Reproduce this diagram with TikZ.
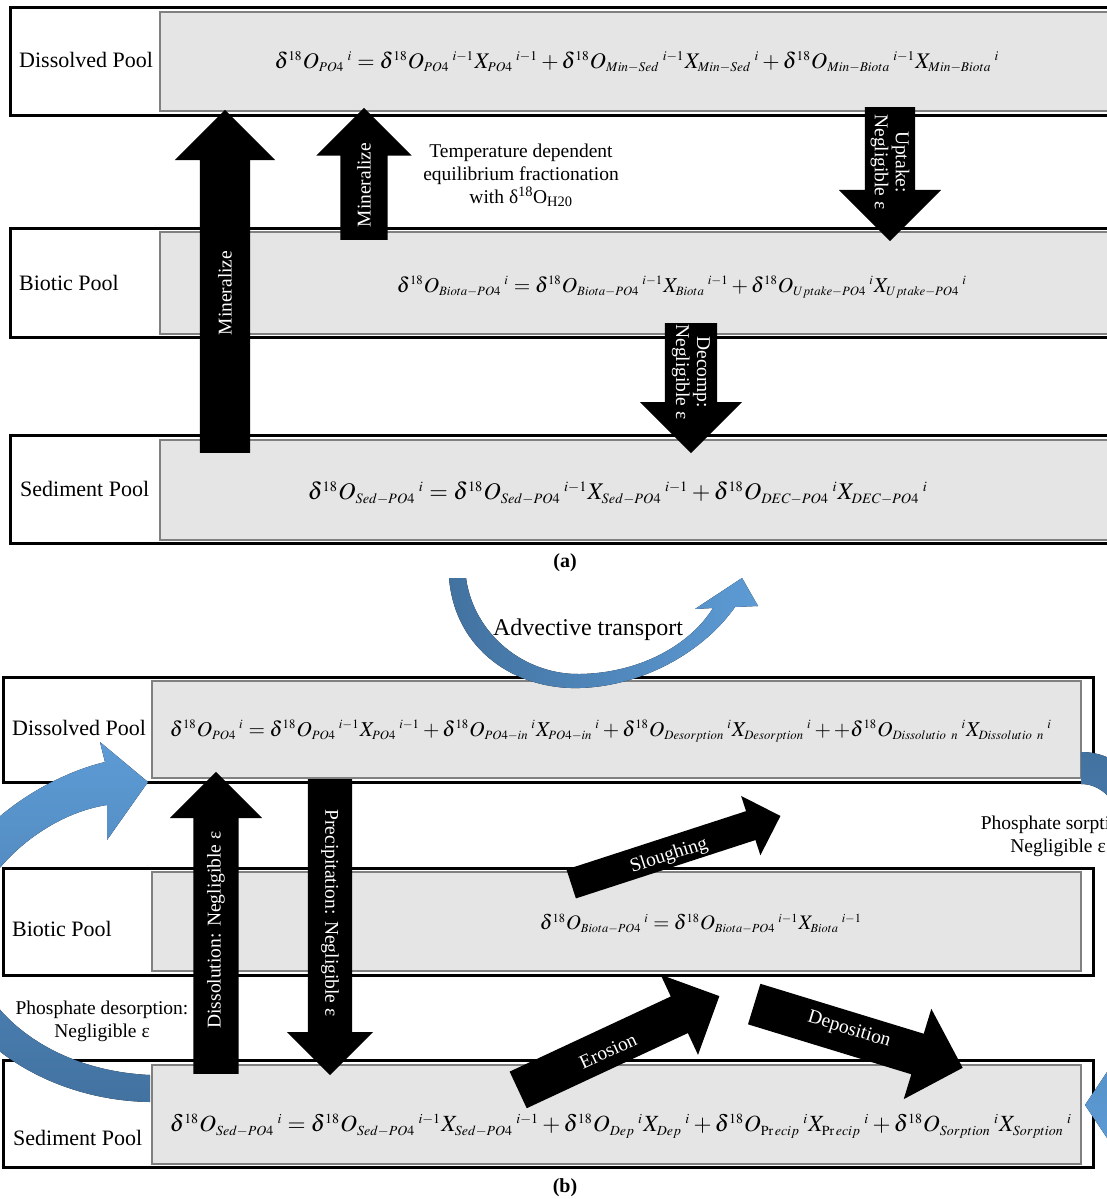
\documentclass[tikz,border=0pt]{standalone}
\usepackage{mathptmx}
\usepackage{graphicx}
\usepackage{fontspec}
\setmainfont{Liberation Serif}
\usetikzlibrary{shapes.arrows}

\definecolor{advlight}{RGB}{93,155,213}
\definecolor{advdark}{RGB}{66,114,160}

\newcommand{\eqsub}[1]{_{\scriptscriptstyle #1}}
\newcommand{\eqsup}[1]{{}^{\scriptscriptstyle\;#1}}
\newcommand{\dOx}{\delta^{\scriptscriptstyle 18}O}

\tikzset{
  pool/.style={draw=black, line width=3pt, fill=white},
  eqbox/.style={draw=black!50, line width=1.3pt, fill=black!10},
  poolname/.style={anchor=west, inner sep=0pt, font=\fontsize{22}{26}\selectfont},
  note/.style={inner sep=0pt, align=center, font=\fontsize{19.5}{23}\selectfont},
  flow/.style={single arrow, fill=black, draw=none, inner xsep=0pt, anchor=tail},
  flowtext/.style={inner sep=0pt, align=center, text=white, font=\fontsize{19.5}{21}\selectfont},
  tag/.style={inner sep=0pt, font=\fontsize{20}{22}\selectfont\bfseries},
}

\begin{document}
\begin{tikzpicture}[x=1pt, y=-1pt]
  \useasboundingbox (0,0) rectangle (1107,1199);
  \clip (0,0) rectangle (1107,1199);

  % (a)
  \draw[pool] (10,8) rectangle (1120,115);
  \draw[eqbox] (160,12) rectangle (1120,111);
  \draw[pool] (10,228) rectangle (1120,337);
  \draw[eqbox] (160,232) rectangle (1120,334);
  \draw[pool] (10,435) rectangle (1120,543);
  \draw[eqbox] (160,440) rectangle (1120,540);

  \node[poolname] (adis) at (19,60) {Dissolved Pool};
  \node[poolname] (abio) at (19,283) {Biotic Pool};
  \node[poolname] (ased) at (20,489) {Sediment Pool};

  \node (adiseq) at (637,62) {\resizebox{725pt}{!}{$\dOx\eqsub{PO4}\eqsup{i} = \dOx\eqsub{PO4}\eqsup{i-1}X\eqsub{PO4}\eqsup{i-1} + \dOx\eqsub{Min-Sed}\eqsup{i-1}X\eqsub{Min-Sed}\eqsup{i} + \dOx\eqsub{Min-Biota}\eqsup{i-1}X\eqsub{Min-Biota}\eqsup{i}$}};
  \node (abioeq) at (682,287) {\resizebox{570pt}{!}{$\dOx\eqsub{Biota-PO4}\eqsup{i} = \dOx\eqsub{Biota-PO4}\eqsup{i-1}X\eqsub{Biota}\eqsup{i-1} + \dOx\eqsub{Uptake-PO4}\eqsup{i}X\eqsub{Uptake-PO4}\eqsup{i}$}};
  \node (asedeq) at (618,493) {\resizebox{620pt}{!}{$\dOx\eqsub{Sed-PO4}\eqsup{i} = \dOx\eqsub{Sed-PO4}\eqsup{i-1}X\eqsub{Sed-PO4}\eqsup{i-1} + \dOx\eqsub{DEC-PO4}\eqsup{i}X\eqsub{DEC-PO4}\eqsup{i}$}};

  \node[flow, inner ysep=25pt, single arrow head extend=25pt, minimum height=343pt, rotate=90] (minbig) at (225,453) {};
  \node[flowtext, rotate=90] (minbigtxt) at (225,293) {Mineralize};
  \node[flow, inner ysep=23.5pt, single arrow head extend=24pt, minimum height=132pt, rotate=90] (minsmall) at (364,240) {};
  \node[flowtext, rotate=90] (minsmalltxt) at (364,185) {Mineralize};
  \node[flow, inner ysep=25pt, single arrow head extend=26pt, minimum height=134pt, rotate=-90] (uptake) at (890,107) {};
  \node[flowtext, rotate=-90] (uptaketxt) at (890,162) {Uptake:\\Negligible ε};
  \node[flow, inner ysep=26pt, single arrow head extend=25pt, minimum height=130pt, rotate=-90] (decomp) at (691,323) {};
  \node[flowtext, rotate=-90] (decomptxt) at (691,372) {Decomp:\\Negligible ε};

  \node[note] (tempnote) at (521,175) {Temperature dependent\\equilibrium fractionation\\with δ\textsuperscript{18}O\textsubscript{H20}};
  \node[tag] (taga) at (565,563) {(a)};

  % (b)
  \draw[pool] (3,677) rectangle (1093,782);
  \draw[eqbox] (152,681) rectangle (1081,778);
  \draw[pool] (3,868) rectangle (1093,975);
  \draw[eqbox] (152,872) rectangle (1081,971);
  \draw[pool] (3,1060) rectangle (1093,1167);
  \draw[eqbox] (152,1065) rectangle (1081,1164);

  \node[poolname] (bdis) at (12,728) {Dissolved Pool};
  \node[poolname] (bbio) at (12,929) {Biotic Pool};
  \node[poolname] (bsed) at (13,1138) {Sediment Pool};

  \node (bdiseq) at (611,731) {\resizebox{882pt}{!}{$\dOx\eqsub{PO4}\eqsup{i} = \dOx\eqsub{PO4}\eqsup{i-1}X\eqsub{PO4}\eqsup{i-1} + \dOx\eqsub{PO4-in}\eqsup{i}X\eqsub{PO4-in}\eqsup{i} + \dOx\eqsub{Desorption}\eqsup{i}X\eqsub{Desorption}\eqsup{i} + +\dOx\eqsub{Dissolutio\ n}\eqsup{i}X\eqsub{Dissolutio\ n}\eqsup{i}$}};
  \node (bbioeq) at (701,924) {\resizebox{322pt}{!}{$\dOx\eqsub{Biota-PO4}\eqsup{i} = \dOx\eqsub{Biota-PO4}\eqsup{i-1}X\eqsub{Biota}\eqsup{i-1}$}};
  \node (bsedeq) at (621,1126) {\resizebox{902pt}{!}{$\dOx\eqsub{Sed-PO4}\eqsup{i} = \dOx\eqsub{Sed-PO4}\eqsup{i-1}X\eqsub{Sed-PO4}\eqsup{i-1} + \dOx\eqsub{Dep}\eqsup{i}X\eqsub{Dep}\eqsup{i} + \dOx\eqsub{\mathrm{Pr}\,ecip}\eqsup{i}X\eqsub{\mathrm{Pr}\,ecip}\eqsup{i} + \dOx\eqsub{Sorption}\eqsup{i}X\eqsub{Sorption}\eqsup{i}$}};

  \node[flow, inner ysep=22.5pt, single arrow head extend=23.5pt, minimum height=302pt, rotate=90] (dissol) at (216,1074) {};
  \node[flowtext, rotate=90] (dissoltxt) at (216,930) {Dissolution: Negligible ε};
  \node[flow, inner ysep=22pt, single arrow head extend=21pt, minimum height=296pt, rotate=-90] (precip) at (330,779) {};
  \node[flowtext, rotate=-90] (preciptxt) at (330,913) {Precipitation: Negligible ε};
  \node[flow, inner ysep=15pt, single arrow head extend=16pt, minimum height=220pt, rotate=18] (slough) at (571,884) {};
  \node[flowtext, rotate=18] (sloughtxt) at (669,856) {Sloughing};
  \node[flow, inner ysep=20pt, single arrow head extend=24pt, minimum height=222pt, rotate=25] (erosion) at (518,1090) {};
  \node[flowtext, rotate=25] (erosiontxt) at (608,1051) {Erosion};
  \node[flow, inner ysep=21pt, single arrow head extend=26pt, minimum height=218pt, rotate=-17] (deposit) at (754,1004) {};
  \node[flowtext, rotate=-17] (deposittxt) at (849,1030) {Deposition};

  % blue exchange arrows
  \fill[left color=advdark, right color=advlight] (449,578) .. controls (455,650) and (515,690) .. (580,688)
    .. controls (645,686) and (705,650) .. (735,607) -- (758,606) -- (742,578) -- (695,609) -- (713,608)
    .. controls (690,645) and (640,673) .. (580,674) .. controls (525,675) and (474,635) .. (466,578) -- cycle;
  \node[inner sep=0pt, font=\fontsize{24}{28}\selectfont] (advtxt) at (588,630) {Advective transport};

  \fill[top color=advlight, bottom color=advdark] (150,1102) .. controls (30,1100) and (-65,1020) .. (-65,935)
    .. controls (-65,850) and (30,780) .. (105,762) -- (100,742) -- (148,782) -- (107,840) -- (107,805)
    .. controls (40,815) and (-30,880) .. (-30,938) .. controls (-30,1000) and (40,1070) .. (150,1075) -- cycle;
  \node[note] (desorbtxt) at (102,1021) {Phosphate desorption:\\Negligible ε};

  \fill[top color=advdark, bottom color=advlight] (1081,752) .. controls (1135,752) and (1170,810) .. (1170,935)
    .. controls (1170,1060) and (1150,1118) .. (1115,1120) -- (1117,1153) -- (1085,1105) -- (1117,1057) -- (1115,1087)
    .. controls (1135,1085) and (1140,1040) .. (1140,935) .. controls (1140,830) and (1115,784) .. (1081,784) -- cycle;
  \node[note] (sorbtxt) at (1058,836) {Phosphate sorption:\\Negligible ε};

  \node[tag] (tagb) at (565,1188) {(b)};
\end{tikzpicture}
\end{document}
